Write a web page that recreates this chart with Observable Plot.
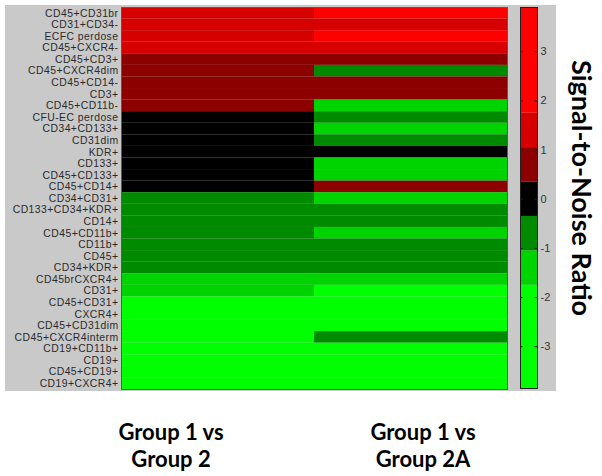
<!DOCTYPE html>
<html>
<head>
<meta charset="utf-8">
<script src="https://cdn.jsdelivr.net/npm/d3@7"></script>
<script src="https://cdn.jsdelivr.net/npm/@observablehq/plot@0.6"></script>
<style>
  html, body { margin: 0; padding: 0; background: #fff; }
  #root { position: relative; width: 602px; height: 476px; overflow: hidden; background: #fff; }
  #panel { position: absolute; left: 5px; top: 5px; width: 551px; height: 386px; background: #c9c9c9; }
  #heat, #bar { position: absolute; top: 0; }
  #heat { left: 0; }
  #bar { left: 510px; }
  .grp { position: absolute; font-family: Lato, "Open Sans", sans-serif; font-weight: 700; font-size: 22px; line-height: 27px; color: #000; text-align: center; transform: translateX(-50%); white-space: nowrap; }
  #title { position: absolute; left: 582px; top: 188px; transform: translate(-50%, -50%) rotate(90deg); font-family: Lato, "Open Sans", sans-serif; font-weight: 700; font-size: 27px; white-space: nowrap; color: #000; }
</style>
</head>
<body>
<div id="root">
  <div id="panel"></div>
  <div id="heat"></div>
  <div id="bar"></div>
  <div id="title">Signal-to-Noise Ratio</div>
</div>
<script>
// ---- Data ----
const markers = [
  "CD45+CD31br", "CD31+CD34-", "ECFC perdose", "CD45+CXCR4-", "CD45+CD3+",
  "CD45+CXCR4dim", "CD45+CD14-", "CD3+", "CD45+CD11b-", "CFU-EC perdose",
  "CD34+CD133+", "CD31dim", "KDR+", "CD133+", "CD45+CD133+",
  "CD45+CD14+", "CD34+CD31+", "CD133+CD34+KDR+", "CD14+", "CD45+CD11b+",
  "CD11b+", "CD45+", "CD34+KDR+", "CD45brCXCR4+", "CD31+",
  "CD45+CD31+", "CXCR4+", "CD45+CD31dim", "CD45+CXCR4interm", "CD19+CD11b+",
  "CD19+", "CD45+CD19+", "CD19+CXCR4+"
];
const groups = ["Group 1 vs Group 2", "Group 1 vs Group 2A"];
const groupLines = [["Group 1 vs", "Group 2"], ["Group 1 vs", "Group 2A"]];
// signal-to-noise ratio per marker (estimated from colour bands)
const snrGroup2 = [
  1.5, 1.5, 1.5, 1.5, 0.7,
  0.7, 0.7, 0.7, 0.7, 0,
  0, 0, 0, 0, 0,
  0, -0.7, -0.7, -0.7, -0.7,
  -0.7, -0.7, -0.7, -1.4, -1.4,
  -2.5, -2.5, -2.5, -2.5, -2.5,
  -2.5, -2.5, -2.5
];
const snrGroup2A = [
  2.5, 1.5, 2.5, 1.5, 0.7,
  -0.7, 0.7, 0.7, -1.4, -0.7,
  -1.4, -0.7, 0, -1.4, -1.4,
  0.7, -1.4, -0.7, -0.7, -1.4,
  -0.7, -0.7, -0.7, -1.4, -2.5,
  -2.5, -2.5, -2.5, -0.7, -2.5,
  -2.5, -2.5, -2.5
];
const colorThresholds = [-1.75, -1.05, -0.35, 0.35, 1.05, 1.75];
const colorRange = ["#00ff00", "#00d400", "#008a00", "#000000", "#8c0000", "#d60000", "#ff0000"];
const barDomain = [-3.85, 3.9];
const barTicks = [-3, -2, -1, 0, 1, 2, 3];

// ---- Build table ----
const cells = [];
markers.forEach((m, i) => {
  cells.push({group: groups[0], marker: m, value: snrGroup2[i]});
  cells.push({group: groups[1], marker: m, value: snrGroup2A[i]});
});
const colorScale = {type: "threshold", domain: colorThresholds, range: colorRange};

const heat = Plot.plot({
  width: 510, height: 392,
  marginLeft: 121, marginRight: 3, marginTop: 7, marginBottom: 3,
  x: {domain: groups, axis: null, padding: 0, round: false},
  y: {domain: markers, padding: 0, round: false, label: null, tickSize: 0, tickPadding: 3},
  color: colorScale,
  style: {background: "transparent", fontFamily: "'Liberation Sans', Arial, sans-serif", fontSize: "10.4px", letterSpacing: "0.45px", color: "#2a2a2a"},
  marks: [
    Plot.cell(cells, {x: "group", y: "marker", fill: "value", inset: 0}),
    Plot.frame({stroke: "#5a5a5a", strokeWidth: 1})
  ]
});
document.getElementById("heat").appendChild(heat);

// colour bar bands
const edges = [barDomain[0], ...colorThresholds, barDomain[1]];
const bands = edges.slice(0, -1).map((lo, i) => ({lo, hi: edges[i + 1], mid: (lo + edges[i + 1]) / 2}));

const bar = Plot.plot({
  width: 60, height: 392,
  marginLeft: 10, marginRight: 33, marginTop: 7, marginBottom: 4,
  x: {domain: [0, 1], axis: null},
  y: {domain: barDomain, axis: null},
  color: colorScale,
  style: {background: "transparent", fontFamily: "'Liberation Sans', Arial, sans-serif", fontSize: "11px", color: "#333"},
  marks: [
    Plot.rectY(bands, {x1: 0, x2: 1, y1: "lo", y2: "hi", fill: "mid", inset: 0}),
    Plot.ruleY(barTicks, {x1: 0, x2: 0.15, stroke: "#222", strokeWidth: 1}),
    Plot.ruleY(barTicks, {x1: 0.85, x2: 1, stroke: "#222", strokeWidth: 1}),
    Plot.axisY(barTicks, {anchor: "right", tickSize: 0, tickPadding: 3, label: null, tickFormat: d => String(d), fill: "#333"}),
    Plot.frame({stroke: "#222", strokeWidth: 1})
  ]
});
document.getElementById("bar").appendChild(bar);

// group labels below
const root = document.getElementById("root");
const labelCenters = [171, 423];
groupLines.forEach((lines, i) => {
  const d = document.createElement("div");
  d.className = "grp";
  d.style.left = labelCenters[i] + "px";
  d.style.top = "418px";
  d.innerHTML = lines.join("<br>");
  root.appendChild(d);
});
</script>
</body>
</html>
